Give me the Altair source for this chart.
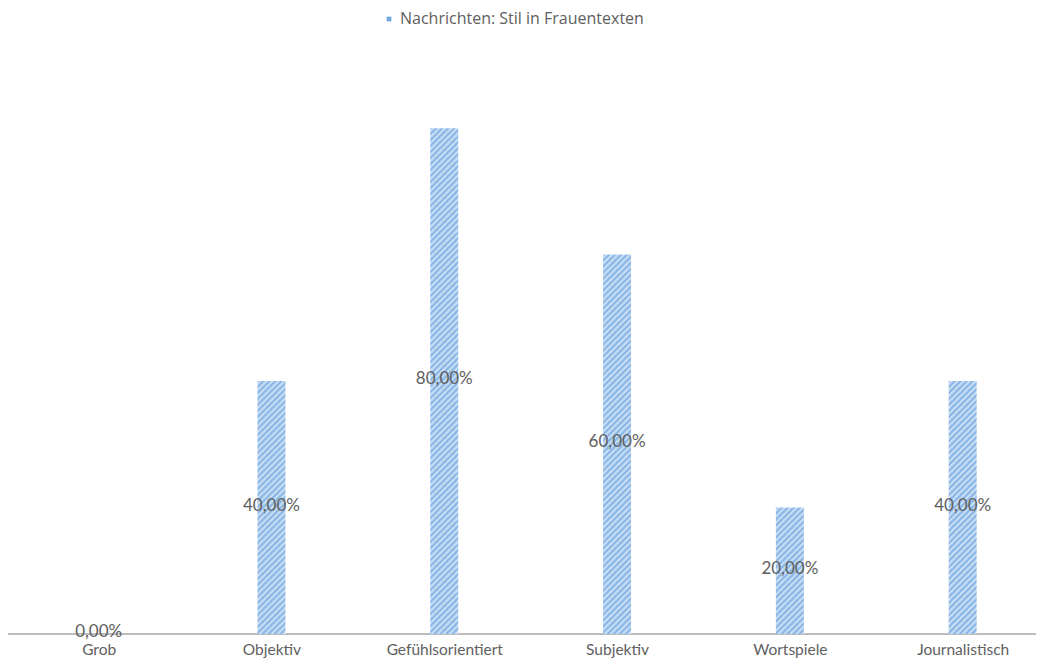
import json
import altair as alt
import pandas as pd

categories = ["Grob", "Objektiv", "Gefühlsorientiert", "Subjektiv", "Wortspiele", "Journalistisch"]
values = [0.0, 0.4, 0.8, 0.6, 0.2, 0.4]
series_name = "Nachrichten: Stil in Frauentexten"

labels = [f"{v*100:.2f}%".replace(".", ",") for v in values]
positions = list(range(len(categories)))

W, H = 1028, 626
Y_MAX = 0.99
X_DOMAIN = [-0.4957, 5.3954]
BAR_W = 28
FONT = "Lato"
TXT = "#606060"
STRIPE_A = "#7DAEE3"
STRIPE_B = "#D4E6F7"
PERIOD = 6.0

df = pd.DataFrame({"pos": positions, "cat": categories, "v": values, "label": labels})

label_expr = json.dumps(categories, ensure_ascii=False) + "[datum.value]"
x_enc = alt.X(
    "pos:Q",
    scale=alt.Scale(domain=X_DOMAIN, nice=False, zero=False),
    axis=alt.Axis(
        title=None, domain=False, ticks=False, grid=False, labelAngle=0,
        values=positions, labelExpr=label_expr, labelOverlap=False,
        labelFont=FONT, labelFontSize=15.5, labelColor=TXT, labelPadding=8,
        labelFlush=False,
    ),
)
y_scale = alt.Scale(domain=[0, Y_MAX])


def hatch(value):
    h = value / Y_MAX * H
    w = BAR_W
    lam = (w + h) / (w * w + h * h)
    total = w + h
    stops = []
    k = 0.0
    while k * PERIOD <= total:
        o1 = k * PERIOD / total
        o2 = (k + 0.5) * PERIOD / total
        if o1 <= 1:
            stops.append(alt.GradientStop(offset=o1, color=STRIPE_A))
        if o2 <= 1:
            stops.append(alt.GradientStop(offset=o2, color=STRIPE_B))
        k += 1
    return alt.LinearGradient(
        gradient="linear", x1=0, y1=0, x2=lam * w, y2=lam * h, stops=stops
    )


base = alt.Chart(df)

axis_line = alt.Chart(pd.DataFrame({"a": [0]})).mark_rule(
    color="#A6A6A6", strokeWidth=1.5
).encode(x=alt.value(0), x2=alt.value(W), y=alt.value(H))

bar_layers = []
for p, v in zip(positions, values):
    if v <= 0:
        continue
    bar_layers.append(
        base.transform_filter(alt.datum.pos == p)
        .mark_bar(size=BAR_W, color=hatch(v))
        .encode(x=x_enc, y=alt.Y("v:Q", scale=y_scale, axis=None))
    )

text_layer = base.transform_calculate(mid="datum.v / 2").mark_text(
    font=FONT, fontSize=17, color=TXT, baseline="middle", align="center", dy=-2
).encode(
    x=x_enc,
    y=alt.Y("mid:Q", scale=y_scale, axis=None),
    text="label:N",
)

legend_layer = alt.Chart(pd.DataFrame({"s": [series_name]})).mark_square(
    opacity=0
).encode(
    color=alt.Color(
        "s:N",
        scale=alt.Scale(range=["#6FA6DE"]),
        legend=alt.Legend(
            title=None, orient="none", legendX=373, legendY=3, padding=0,
            symbolType="square", symbolSize=22, symbolOpacity=1, labelLimit=0,
            labelFont="Open Sans", labelFontSize=16, labelColor=TXT, labelOffset=3,
        ),
    )
)

chart = alt.layer(axis_line, *bar_layers, text_layer, legend_layer).properties(
    width=W, height=H,
    autosize=alt.AutoSizeParams(type="none"),
    padding={"left": 0, "top": 0, "right": 0, "bottom": 24},
).configure(
    background="white", view=alt.ViewConfig(stroke=None)
)

chart.save("out.html", embed_options={"renderer": "svg", "actions": False})
